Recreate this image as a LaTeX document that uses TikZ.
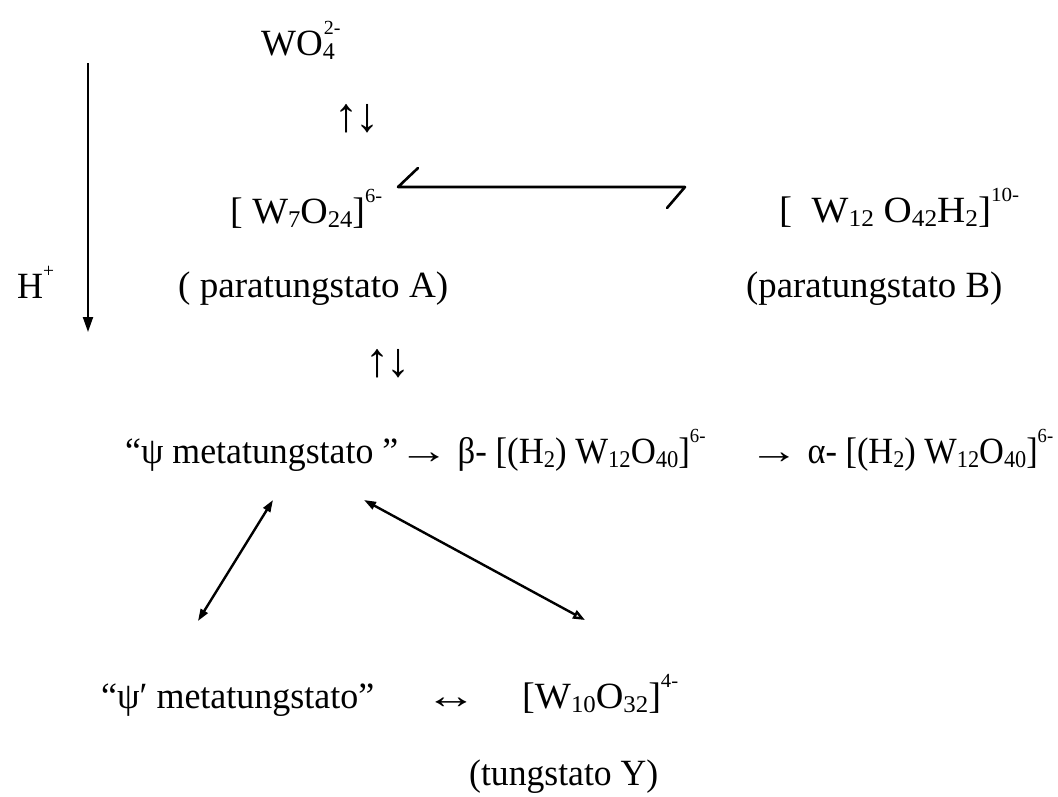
\documentclass[tikz,border=0pt]{standalone}
\usepackage{fontspec}
\usepackage{graphicx}
\setmainfont{Liberation Serif}
\usetikzlibrary{arrows.meta,calc}
\newcommand\sbs[1]{\raisebox{-4pt}{\fontsize{24}{24}\selectfont #1}}
\newcommand\sps[1]{\raisebox{21pt}{\fontsize{20}{20}\selectfont #1}}
\newcommand\myrar{\scalebox{1.45}[1]{→}}
\newcommand\mylr{\scalebox{1.4}[1]{↔}}
\newcommand\myud{\scalebox{1.3}{↑\kern-3pt↓}}
\tikzset{tipf/.tip={Triangle[length=12pt,width=8pt]},
         tipo/.tip={Triangle[open,length=12pt,width=9pt]}}
\begin{document}
\begin{tikzpicture}[x=1pt,y=-1pt,
  txt/.style={font=\fontsize{37}{44}\selectfont, inner sep=0pt, anchor=base west},
  ctr/.style={font=\fontsize{37}{44}\selectfont, inner sep=0pt, anchor=center},
  conn/.style={line width=2.4pt, line join=round},
]
\useasboundingbox (0,0) rectangle (1058,796);
\fill[white] (0,0) rectangle (1058,796);

\node[txt] (wo) at (261,55) {WO\rlap{\sbs{4}}\sps{\kern1pt 2-}};
\node[ctr] (eq1) at (357,119) {\myud};
\node[txt] (pA) at (230,223) {\resizebox{152pt}{\height}{[ W\sbs{7}O\sbs{24}]\sps{6-}}};
\node[txt] (pB) at (779,222) {\resizebox{240pt}{\height}{[\ \ W\sbs{12} O\sbs{42}H\sbs{2}]\sps{10-}}};
\node[txt] (hp) at (17,298) {\resizebox{37pt}{\height}{H\sps{+}}};
\node[txt] (nA) at (178,297) {\resizebox{270pt}{\height}{( paratungstato A)}};
\node[txt] (nB) at (746,297) {\resizebox{256pt}{\height}{(paratungstato B)}};
\node[ctr] (eq2) at (388,364) {\myud};
\node[txt] (psi) at (125,463) {\resizebox{273pt}{\height}{“ψ metatungstato ”}};
\node[txt] (beta) at (psi.base east) {\resizebox{307pt}{\height}{\myrar\ β- [(H\sbs{2}) W\sbs{12}O\sbs{40}]\sps{6-}}};
\node[txt] (alpha) at (749,463) {\resizebox{304pt}{\height}{\myrar\ α- [(H\sbs{2}) W\sbs{12}O\sbs{40}]\sps{6-}}};
\node[txt] (psip) at (101,708) {\resizebox{273pt}{\height}{“ψ′ metatungstato”}};
\node[txt] (lr) at (425,708) {\mylr};
\node[txt] (w10) at (522,708) {\resizebox{156pt}{\height}{[W\sbs{10}O\sbs{32}]\sps{4-}}};
\node[txt] (tY) at (469,785) {\resizebox{189pt}{\height}{(tungstato Y)}};

% H+ arrow
\coordinate (htop) at (88,63);
\coordinate (hbot) at (88,332);
\draw[line width=2pt, -{Triangle[length=15pt,width=10pt]}] (htop) -- (hbot);

% equilibrium harpoon between paratungstato A and B
\coordinate (hl) at (398,187);
\coordinate (hr) at (685,187);
\draw[conn, line cap=round, line width=2.6pt] ($(hl)+(20,-19)$) -- (hl) -- (hr) -- ($(hr)+(-18,21)$);

% diagonal arrows
\coordinate (d1t) at (273,500);
\coordinate (d1b) at (198,621);
\coordinate (d2t) at (364,500);
\coordinate (d2b) at (585,620);
\draw[conn, tipf-tipf] (d1t) -- (d1b);
\draw[conn, tipf-tipo] (d2t) -- (d2b);
\end{tikzpicture}
\end{document}
